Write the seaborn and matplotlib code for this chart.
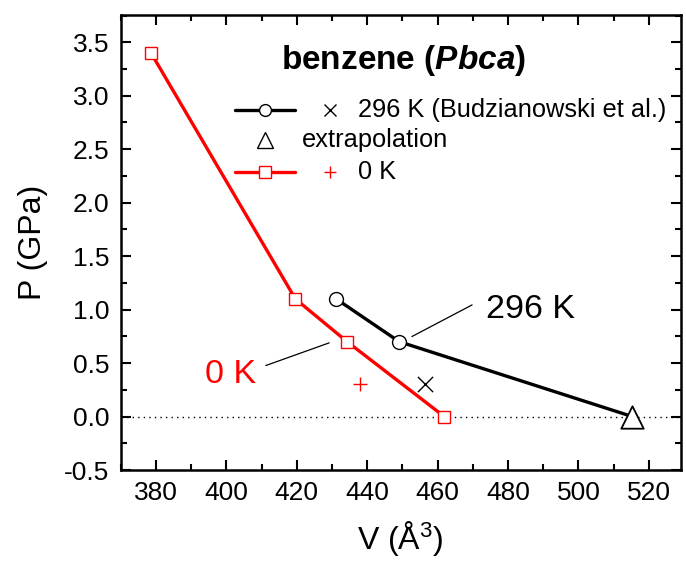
import numpy as np
import pandas as pd
import matplotlib
matplotlib.use('Agg')
import matplotlib.pyplot as plt
from matplotlib.lines import Line2D
from matplotlib.ticker import MultipleLocator
import seaborn as sns

# data
V_0K = [378.6, 419.6, 434.3, 461.9]
P_0K = [3.4, 1.1, 0.7, 0.0]
V_296 = [431.2, 449.1, 515.3]
P_296 = [1.1, 0.7, 0.0]
V_extra = [515.3]
P_extra = [0.0]
V_budz = [456.4]
P_budz = [0.3]
V_0K_plus = [437.9]
P_0K_plus = [0.3]

sns.set_style('ticks')
plt.rcParams['font.family'] = ['Liberation Sans', 'DejaVu Sans']
plt.rcParams['mathtext.fontset'] = 'custom'
plt.rcParams['mathtext.rm'] = 'Liberation Sans'
plt.rcParams['mathtext.it'] = 'Liberation Sans:italic:bold'
plt.rcParams['text.color'] = 'black'
plt.rcParams['axes.labelcolor'] = 'black'

RED = '#ff0000'

fig = plt.figure(figsize=(6.86, 5.70), dpi=100)
ax = fig.add_axes([0.176, 0.1754, 0.816, 0.7983])

ax.axhline(0, color='black', lw=1.0, ls=(0, (1, 3)), zorder=1)

# 0 K curve
sns.lineplot(x=V_0K, y=P_0K, ax=ax, color=RED, lw=2.4, marker='s', markersize=9,
             markerfacecolor='white', markeredgecolor=RED, markeredgewidth=1.0,
             sort=False, zorder=3)
# 296 K curve
sns.lineplot(x=V_296, y=P_296, ax=ax, color='black', lw=2.4, marker='o', markersize=10,
             markerfacecolor='white', markeredgecolor='black', markeredgewidth=1.0,
             markevery=[0, 1], sort=False, zorder=3)
# extrapolation point
sns.scatterplot(x=V_extra, y=P_extra, ax=ax, marker='^', s=260, facecolor='white',
                edgecolor='black', linewidth=1.3, zorder=4)
# Budzianowski et al.
sns.scatterplot(x=V_budz, y=P_budz, ax=ax, marker='x', s=120, color='black',
                linewidth=1.0, zorder=4)
sns.scatterplot(x=V_0K_plus, y=P_0K_plus, ax=ax, marker='+', s=110, color=RED,
                linewidth=1.0, zorder=4)

# annotations with leader lines
ax.plot([452.7, 469.8], [0.748, 1.044], color='black', lw=0.9)
ax.text(473.8, 0.997, '296 K', fontsize=24.5, ha='left', va='center')
ax.plot([411.2, 429.2], [0.477, 0.689], color='black', lw=0.9)
ax.text(394.0, 0.39, '0 K', fontsize=24.5, ha='left', va='center', color=RED)

# Origin-style legend drawn in axes coordinates
ax.text(0.505, 0.901, r'benzene ($\mathit{Pbca}$)', transform=ax.transAxes,
        fontsize=24, fontweight='bold', ha='center', va='center')
rows = [0.791, 0.725, 0.656]
ax.add_line(Line2D([0.204, 0.311], [rows[0]] * 2, transform=ax.transAxes, color='black', lw=2.4))
ax.add_line(Line2D([0.258], [rows[0]], transform=ax.transAxes, marker='o', ms=8.5,
                   mfc='white', mec='black', mew=1.0, ls='none'))
ax.add_line(Line2D([0.373], [rows[0]], transform=ax.transAxes, marker='x', ms=9,
                   color='black', mew=1.0, ls='none'))
ax.text(0.424, rows[0], '296 K (Budzianowski et al.)', transform=ax.transAxes,
        fontsize=18.3, ha='left', va='center')
ax.add_line(Line2D([0.258], [rows[1]], transform=ax.transAxes, marker='^', ms=11,
                   mfc='white', mec='black', mew=1.0, ls='none'))
ax.text(0.323, rows[1], 'extrapolation', transform=ax.transAxes,
        fontsize=18.3, ha='left', va='center')
ax.add_line(Line2D([0.204, 0.311], [rows[2]] * 2, transform=ax.transAxes, color=RED, lw=2.4))
ax.add_line(Line2D([0.258], [rows[2]], transform=ax.transAxes, marker='s', ms=8,
                   mfc='white', mec=RED, mew=1.0, ls='none'))
ax.add_line(Line2D([0.373], [rows[2]], transform=ax.transAxes, marker='+', ms=8,
                   color=RED, mew=1.0, ls='none'))
ax.text(0.424, rows[2], '0 K', transform=ax.transAxes,
        fontsize=18.3, ha='left', va='center')

ax.set_xlim(370, 529)
ax.set_ylim(-0.5, 3.755)
ax.xaxis.set_major_locator(MultipleLocator(20))
ax.xaxis.set_minor_locator(MultipleLocator(10))
ax.yaxis.set_major_locator(MultipleLocator(0.5))
ax.yaxis.set_minor_locator(MultipleLocator(0.25))
ax.yaxis.set_major_formatter(matplotlib.ticker.FormatStrFormatter('%.1f'))
ax.tick_params(which='both', direction='in', top=True, right=True, width=1.5,
               labelsize=19, colors='black')
ax.tick_params(which='major', length=7, pad=8)
ax.tick_params(which='minor', length=4)
for sp in ax.spines.values():
    sp.set_visible(True)
    sp.set_linewidth(1.8)
    sp.set_color('black')

ax.set_xlabel('V (Å$^3$)', fontsize=23, labelpad=10)
ax.set_ylabel('P (GPa)', fontsize=23, labelpad=12)

fig.savefig('out.png', dpi=100)
